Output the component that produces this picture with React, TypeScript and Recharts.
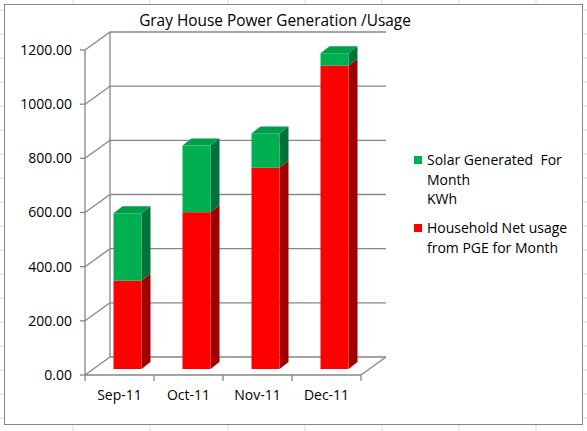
import React from "react";
import { BarChart, Bar, XAxis, YAxis, CartesianGrid } from "recharts";

const months = ["Sep-11", "Oct-11", "Nov-11", "Dec-11"];
const householdNet = [326, 579, 743, 1120];
const solarGenerated = [249, 246, 127, 46];
const yTicks = [0, 200, 400, 600, 800, 1000, 1200];
const solarLabel = ["Solar Generated  For", "Month", "KWh"];
const householdLabel = ["Household Net usage", "from PGE for Month"];

const data = months.map((month, i) => ({
  month,
  household: householdNet[i],
  solar: solarGenerated[i],
}));

const FONT = '"Open Sans", "Noto Sans", sans-serif';
const AXIS = "#868686";
// back wall offset, and where the bars sit inside the depth
const WALL_X = 25;
const WALL_Y = 18;
const BAR_X = 7.5;
const BAR_Y = 6;
const DEPTH_X = 9;
const DEPTH_Y = 7;

const GREEN = { front: "#00B050", side: "#00723A", top: "#009E48" };
const RED = { front: "#FF0000", side: "#A00000", top: "#D00000" };

function Box3D(props: any) {
  const { x, y, width, height, colors, capped } = props;
  if (!height || height <= 0) return null;
  const fx = x + BAR_X;
  const fy = y - BAR_Y;
  const r = fx + width;
  return (
    <g>
      <polygon
        points={`${r},${fy} ${r + DEPTH_X},${fy - DEPTH_Y} ${r + DEPTH_X},${fy + height - DEPTH_Y} ${r},${fy + height}`}
        fill={colors.side}
      />
      {capped && (
        <polygon
          points={`${fx},${fy} ${fx + DEPTH_X},${fy - DEPTH_Y} ${r + DEPTH_X},${fy - DEPTH_Y} ${r},${fy}`}
          fill={colors.top}
        />
      )}
      <rect x={fx} y={fy} width={width} height={height} fill={colors.front} />
    </g>
  );
}

function wallLine(p: any) {
  const { x1, y1, x2, y, height, index } = p;
  const isFloor = Math.abs(y1 - (y + height)) < 0.5;
  const s = { stroke: AXIS, strokeWidth: 1.3 };
  return (
    <g key={`wall-${index}`}>
      <line x1={x1} y1={y1} x2={x1 + WALL_X} y2={y1 - WALL_Y} {...s} />
      <line x1={x1 + WALL_X} y1={y1 - WALL_Y} x2={x2 + WALL_X} y2={y1 - WALL_Y} {...s} />
      {isFloor && (
        <>
          <line x1={x2} y1={y1} x2={x2 + WALL_X} y2={y1 - WALL_Y} {...s} />
          <line x1={x1 + WALL_X} y1={y1 - WALL_Y} x2={x1 + WALL_X} y2={y - WALL_Y} {...s} />
        </>
      )}
    </g>
  );
}

function MonthTick(props: any) {
  const { x, y, payload, index, width } = props;
  const band = (width || 276) / months.length;
  const left = x - band / 2;
  return (
    <g>
      <line x1={left} y1={y - 6} x2={left} y2={y} stroke={AXIS} strokeWidth={1.3} />
      {index === months.length - 1 && (
        <line x1={left + band} y1={y - 6} x2={left + band} y2={y} stroke={AXIS} strokeWidth={1.3} />
      )}
      <text x={x} y={y} dy={19} textAnchor="middle" fill="#000" fontSize={14} fontFamily={FONT}>
        {payload.value}
      </text>
    </g>
  );
}

function LegendItem({ lines, color, top }: { lines: string[]; color: string; top: number }) {
  return (
    <div style={{ position: "absolute", left: 414, top, fontFamily: FONT, fontSize: 14, lineHeight: "19.5px", color: "#000" }}>
      <div style={{ position: "absolute", left: 0, top: 6, width: 8, height: 8, background: color }} />
      <div style={{ marginLeft: 13, whiteSpace: "pre" }}>
        {lines.map((l) => (
          <div key={l}>{l}</div>
        ))}
      </div>
    </div>
  );
}

const sheetCols = [73, 150, 228, 305, 382, 459, 536];

export default function App() {
  const rows = Array.from({ length: 18 }, (_, i) => 10 + i * 24);
  return (
    <div style={{ position: "absolute", left: 0, top: 0, width: 587, height: 431, background: "#fff", overflow: "hidden" }}>
      <svg width={587} height={431} style={{ position: "absolute", left: 0, top: 0 }}>
        {sheetCols.map((c) => (
          <line key={`c${c}`} x1={c} y1={0} x2={c} y2={431} stroke="#d9d9d9" />
        ))}
        {rows.map((r) => (
          <line key={`r${r}`} x1={0} y1={r} x2={587} y2={r} stroke="#d9d9d9" />
        ))}
      </svg>
      <div
        style={{
          position: "absolute",
          left: 4,
          top: 4,
          width: 577,
          height: 419,
          background: "#fff",
          border: `1.5px solid ${AXIS}`,
        }}
      />
      <div style={{ position: "absolute", left: 0, top: 0 }}>
        <BarChart width={587} height={431} data={data} margin={{ top: 50, right: 226, bottom: 0, left: 0 }}>
          <CartesianGrid horizontal={wallLine} vertical={false} />
          <XAxis
            dataKey="month"
            height={56}
            stroke={AXIS}
            strokeWidth={1.3}
            tickLine={false}
            tickSize={6}
            tickMargin={0}
            interval={0}
            tick={<MonthTick />}
          />
          <YAxis
            width={85}
            domain={[0, 1200]}
            ticks={yTicks}
            tickFormatter={(v: number) => v.toFixed(2)}
            stroke={AXIS}
            strokeWidth={1.3}
            tickSize={5}
            tickMargin={8}
            tick={{ fill: "#000", fontSize: 14, fontFamily: FONT }}
          />
          <Bar
            dataKey="household"
            stackId="a"
            barSize={28}
            isAnimationActive={false}
            shape={(p: any) => <Box3D {...p} colors={RED} capped={false} />}
          />
          <Bar
            dataKey="solar"
            stackId="a"
            barSize={28}
            isAnimationActive={false}
            shape={(p: any) => <Box3D {...p} colors={GREEN} capped />}
          />
        </BarChart>
      </div>
      <div
        style={{
          position: "absolute",
          left: 0,
          top: 11,
          width: 550,
          textAlign: "center",
          fontFamily: FONT,
          fontSize: 15.4,
          lineHeight: "20px",
          color: "#000",
        }}
      >
        Gray House Power Generation /Usage
      </div>
      <LegendItem lines={solarLabel} color={GREEN.front} top={150} />
      <LegendItem lines={householdLabel} color={RED.front} top={218} />
    </div>
  );
}
